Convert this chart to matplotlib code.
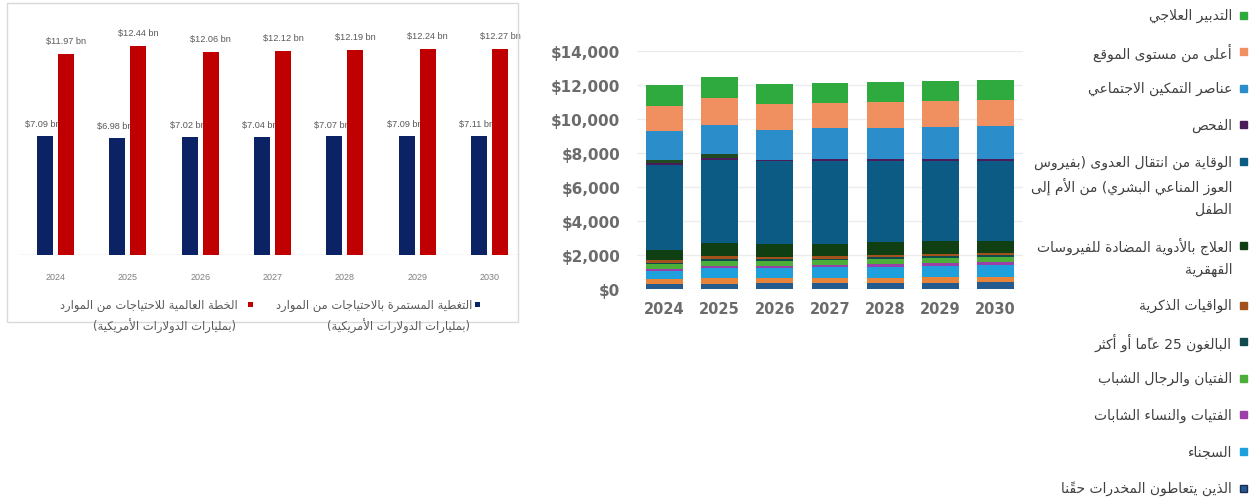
import matplotlib
matplotlib.use('Agg')
import matplotlib.pyplot as plt
from matplotlib.patches import Rectangle
from matplotlib.ticker import FuncFormatter
from matplotlib import font_manager

W, H = 1252, 502

years = ['2024', '2025', '2026', '2027', '2028', '2029', '2030']

# left panel, US$ billions
continued = [7.09, 6.98, 7.02, 7.04, 7.07, 7.09, 7.11]
global_plan = [11.97, 12.44, 12.06, 12.12, 12.19, 12.24, 12.27]

# right panel, US$ millions, bottom of the stack first
pwid = [320, 300, 330, 340, 350, 370, 400]
sex_workers = [250, 330, 300, 310, 320, 310, 320]
prisoners = [500, 600, 600, 620, 650, 680, 690]
girls = [90, 140, 140, 140, 150, 150, 160]
boys = [300, 270, 270, 270, 280, 290, 290]
adults = [70, 120, 100, 110, 110, 120, 140]
condoms = [150, 200, 120, 130, 120, 110, 120]
art = [600, 740, 760, 730, 760, 770, 720]
pmtct = [5000, 4850, 4890, 4850, 4770, 4700, 4690]
testing = [150, 130, 80, 110, 100, 110, 120]
other = [150, 260, 0, 0, 0, 0, 0]
enablers = [1700, 1710, 1780, 1830, 1860, 1900, 1900]
above_site = [1470, 1550, 1510, 1500, 1510, 1510, 1530]
management = [1220, 1240, 1180, 1180, 1210, 1220, 1190]

stack = [
    (pwid, '#245b8f', 'الذين يتعاطون المخدرات حقنًا'),
    (sex_workers, '#e8833a', None),
    (prisoners, '#1ea0dc', 'السجناء'),
    (girls, '#9b40a8', 'الفتيات والنساء الشابات'),
    (boys, '#4caf3a', 'الفتيان والرجال الشباب'),
    (adults, '#0f4a4e', 'البالغون 25 عامًا أو أكثر'),
    (condoms, '#a3521c', 'الواقيات الذكرية'),
    (art, '#0f3f12', 'العلاج بالأدوية المضادة للفيروسات\nالقهقرية'),
    (pmtct, '#0c5b85', 'الوقاية من انتقال العدوى (بفيروس\nالعوز المناعي البشري) من الأم إلى\nالطفل'),
    (testing, '#4b1c5a', 'الفحص'),
    (other, '#1f4a22', None),
    (enablers, '#2b8ecb', 'عناصر التمكين الاجتماعي'),
    (above_site, '#f09060', 'أعلى من مستوى الموقع'),
    (management, '#2eaa3e', 'التدبير العلاجي'),
]

left_labels = ['التغطية المستمرة بالاحتياجات من الموارد\n(بمليارات الدولارات الأمريكية)',
               'الخطة العالمية للاحتياجات من الموارد\n(بمليارات الدولارات الأمريكية)']

# --- arabic shaping: matplotlib has no text shaping, so pick presentation forms by hand
DUAL = {0x0626: 0xFE89, 0x0628: 0xFE8F, 0x062A: 0xFE95, 0x062B: 0xFE99, 0x062C: 0xFE9D,
        0x062D: 0xFEA1, 0x062E: 0xFEA5, 0x0633: 0xFEB1, 0x0634: 0xFEB5, 0x0635: 0xFEB9,
        0x0636: 0xFEBD, 0x0637: 0xFEC1, 0x0638: 0xFEC5, 0x0639: 0xFEC9, 0x063A: 0xFECD,
        0x0641: 0xFED1, 0x0642: 0xFED5, 0x0643: 0xFED9, 0x0644: 0xFEDD, 0x0645: 0xFEE1,
        0x0646: 0xFEE5, 0x0647: 0xFEE9, 0x064A: 0xFEF1}
RIGHT = {0x0622: 0xFE81, 0x0623: 0xFE83, 0x0624: 0xFE85, 0x0625: 0xFE87, 0x0627: 0xFE8D,
         0x0629: 0xFE93, 0x062F: 0xFEA9, 0x0630: 0xFEAB, 0x0631: 0xFEAD, 0x0632: 0xFEAF,
         0x0648: 0xFEED, 0x0649: 0xFEEF}
LAM_ALEF = {0x0622: 0xFEF5, 0x0623: 0xFEF7, 0x0625: 0xFEF9, 0x0627: 0xFEFB}
MIRROR = {ord('('): ord(')'), ord(')'): ord('(')}


def ch_is_ltr(c):
    return c < 128 and chr(c).isalnum()


def rtl(line):
    toks = []
    for ch in line:
        c = ord(ch)
        if 0x064B <= c <= 0x0652 and toks:
            toks[-1][2] += ch
        elif c in LAM_ALEF and toks and toks[-1][0] == 0x0644 and not toks[-1][2]:
            toks[-1] = [LAM_ALEF[c], 'L', '']
        else:
            kind = 'D' if c in DUAL else 'R' if c in RIGHT else 'U'
            toks.append([c, kind, ''])
    glyphs = []
    for i, (c, kind, marks) in enumerate(toks):
        prev = i > 0 and toks[i - 1][1] == 'D' and kind != 'U'
        nxt = kind == 'D' and i + 1 < len(toks) and toks[i + 1][1] != 'U'
        if kind == 'D':
            g = DUAL[c] + (3 if prev and nxt else 1 if prev else 2 if nxt else 0)
        elif kind == 'R':
            g = RIGHT[c] + (1 if prev else 0)
        elif kind == 'L':
            g = c + (1 if prev else 0)
        else:
            g = MIRROR.get(c, c)
        glyphs.append((chr(g) + marks, kind == 'U' and ch_is_ltr(c)))
    # visual order right to left, digit runs stay left to right
    glyphs.reverse()
    out, run = [], []
    for g, ltr in glyphs:
        if ltr:
            run.append(g)
        else:
            out.extend(reversed(run))
            run = []
            out.append(g)
    out.extend(reversed(run))
    return ''.join(out)


def fx(x):
    return x / W


def fy(y):
    return 1 - y / H


names = {f.name for f in font_manager.fontManager.ttflist}
narrow = 'Liberation Sans Narrow' if 'Liberation Sans Narrow' in names else 'Liberation Sans'
AR = 'DejaVu Sans'

fig = plt.figure(figsize=(W / 100, H / 100), dpi=100)

# ---------------- left panel: grouped bars ----------------
fig.add_artist(Rectangle((fx(7), fy(323)), (518 - 7) / W, (323 - 4) / H,
                         transform=fig.transFigure, fill=False,
                         edgecolor='#d9d9d9', lw=1.0))

ax1 = fig.add_axes([fx(19.3), fy(256), 506.4 / W, 235.2 / H])
x = list(range(len(years)))
off, bw = 0.145, 0.22
b1 = ax1.bar([i - off for i in x], continued, bw, color='#0b2265', zorder=1)
b2 = ax1.bar([i + off for i in x], global_plan, bw, color='#c00000', zorder=3)
for rect, v in zip(b1, continued):
    ax1.annotate(f'${v:.2f} bn', (rect.get_x() + rect.get_width() / 2, v),
                 xytext=(-1.5, 5.5), textcoords='offset points', ha='center', va='bottom',
                 fontsize=6.6, color='#595959', family=narrow, zorder=2)
for rect, v in zip(b2, global_plan):
    ax1.annotate(f'${v:.2f} bn', (rect.get_x() + rect.get_width() / 2, v),
                 xytext=(0, 6.5), textcoords='offset points', ha='center', va='bottom',
                 fontsize=6.6, color='#595959', family=narrow, zorder=4)
ax1.set_xlim(-0.5, 6.5)
ax1.set_ylim(0, 14)
ax1.set_xticks(x)
ax1.set_xticklabels(years, fontsize=6.5, color='#7f7f7f', family=narrow)
ax1.tick_params(axis='x', length=0, pad=12)
ax1.set_yticks([])
for s in ax1.spines.values():
    s.set_visible(False)
ax1.axhline(0, xmin=0, xmax=0.985, color='#d9d9d9', lw=1.0, zorder=0)
ax1.patch.set_alpha(0)

# left legend, marker on the right of each entry
for (mx, tx), col, lab in zip([(477, 472), (250.5, 238)], ['#0b2265', '#c00000'], left_labels):
    fig.add_artist(Rectangle((fx(mx - 2.5), fy(308)), 5 / W, 5 / H,
                             transform=fig.transFigure, color=col, lw=0))
    for k, line in enumerate(lab.split('\n')):
        fig.text(fx(tx - 2 * k), fy(305.5 + 21 * k), rtl(line), ha='right', va='center',
                 fontsize=8.3, color='#595959', family=AR)

# ---------------- right panel: stacked bars ----------------
ax2 = fig.add_axes([fx(637), fy(290), 386 / W, 238.3 / H])
bottom = [0] * len(years)
for vals, col, lab in stack:
    ax2.bar(x, vals, 0.67, bottom=bottom, color=col, lw=0, zorder=2)
    bottom = [b + v for b, v in zip(bottom, vals)]
ax2.set_xlim(-0.5, 6.5)
ax2.set_ylim(0, 14000)
ax2.set_yticks(range(0, 14001, 2000))
ax2.yaxis.set_major_formatter(FuncFormatter(lambda v, p: f'${v:,.0f}'))
ax2.set_xticks(x)
ax2.set_xticklabels(years)
ax2.tick_params(axis='y', length=0, pad=12, labelsize=11, labelcolor='#6b6b6b')
ax2.tick_params(axis='x', length=0, pad=9, labelsize=10.5, labelcolor='#6b6b6b')
for t in ax2.get_xticklabels() + ax2.get_yticklabels():
    t.set_fontweight('bold')
ax2.grid(axis='y', color='#ececec', lw=1.0, zorder=0)
ax2.set_axisbelow(True)
for s in ax2.spines.values():
    s.set_visible(False)

# right legend, top to bottom = top of stack first
y = 16
for vals, col, lab in reversed(stack):
    if lab is None:
        continue
    edge = '#1b2a55' if vals is pwid else col
    fig.add_artist(Rectangle((fx(1240), fy(y + 3.5)), 7 / W, 7 / H,
                             transform=fig.transFigure, facecolor=col,
                             edgecolor=edge, lw=1.0))
    lines = lab.split('\n')
    for k, line in enumerate(lines):
        fig.text(fx(1232), fy(y + 23.5 * k), rtl(line), ha='right', va='center',
                 fontsize=10, color='#404040', family=AR)
    y += 36.6 + 23.5 * (len(lines) - 1)

fig.savefig('out.png', dpi=100)
